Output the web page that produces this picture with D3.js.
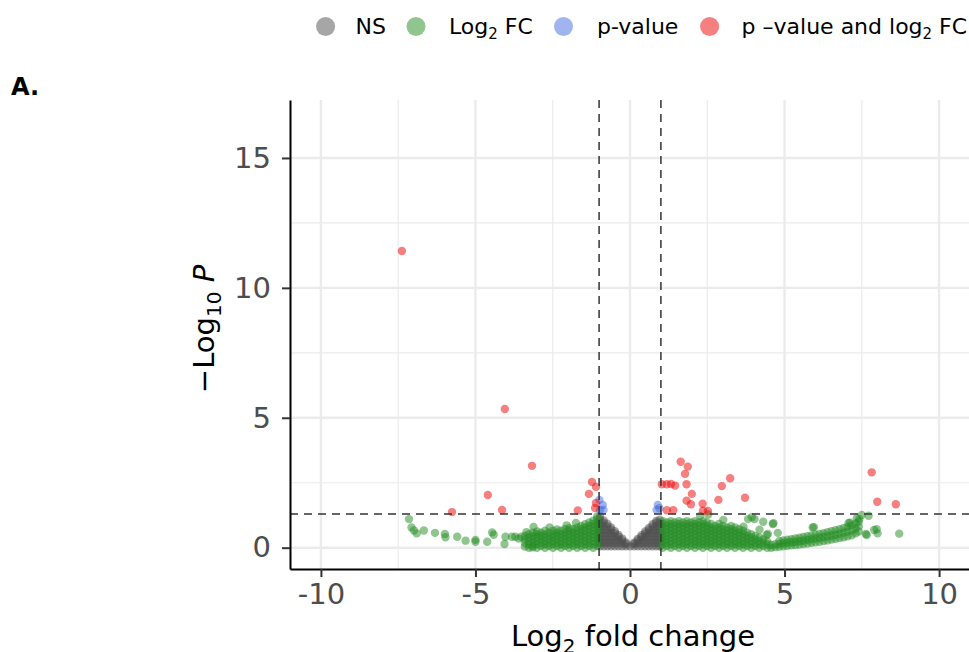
<!DOCTYPE html>
<html><head><meta charset="utf-8">
<script src="https://cdn.jsdelivr.net/npm/d3@7"></script>
<style>body{margin:0;background:#fff}svg{display:block;font-family:"DejaVu Sans",sans-serif}</style>
</head><body><svg id="c" width="969" height="652"></svg>
<script>
// ---- data ----
const categories = ["NS", "Log2 FC", "p-value", "p-value and log2 FC"];
const categoryColors = ["#4D4D4D", "#228B22", "#4169E1", "#EE0000"];
const xTicks = [-10, -5, 0, 5, 10];
const yTicks = [0, 5, 10, 15];
const xMinor = [-7.5, -2.5, 2.5, 7.5];
const yMinor = [2.5, 7.5, 12.5];
const fcCutoff = 1;
const pCutoffLog = 1.301; // -log10(0.05)

// NS points as columns [log2FC, [-log10 p ...]]
const nsColumns = [
  [-0.97,[0.05,0.18,0.31,0.44,0.57,0.7,0.83,0.96,1.09,1.2]],
  [-0.85,[0.05,0.18,0.31,0.44,0.57,0.7,0.83,0.96,1.05]],
  [-0.73,[0.05,0.18,0.31,0.44,0.57,0.7,0.83,0.92]],
  [-0.61,[0.05,0.18,0.31,0.44,0.57,0.7,0.78]],
  [-0.49,[0.05,0.18,0.31,0.44,0.56,0.63]],
  [-0.37,[0.05,0.18,0.31,0.42,0.49]],
  [-0.25,[0.05,0.18,0.28,0.35]],
  [-0.13,[0.05,0.14,0.2]],
  [0,[0.05]],
  [0.13,[0.05,0.14,0.19]],
  [0.25,[0.05,0.18,0.28,0.34]],
  [0.37,[0.05,0.18,0.31,0.41,0.48]],
  [0.49,[0.05,0.18,0.31,0.44,0.55,0.62]],
  [0.61,[0.05,0.18,0.31,0.44,0.57,0.68,0.76]],
  [0.73,[0.05,0.18,0.31,0.44,0.57,0.7,0.82,0.9]],
  [0.85,[0.05,0.18,0.31,0.44,0.57,0.7,0.83,0.96,1.03]],
  [0.96,[0.05,0.18,0.31,0.44,0.57,0.7,0.83,0.96,1.08]]
];

// Log2 FC only (green), dense columns
const fcColumns = [
  [-3.4,[0.04,0.18,0.32,0.45]],
  [-3.27,[0,0.13,0.26,0.39,0.52]],
  [-3.14,[0.06,0.19,0.32,0.45,0.58]],
  [-3.01,[0,0.13,0.26,0.39,0.52,0.62]],
  [-2.88,[0.06,0.19,0.32,0.45,0.58]],
  [-2.75,[0,0.13,0.26,0.39,0.52,0.65]],
  [-2.62,[0.06,0.19,0.32,0.45,0.58]],
  [-2.49,[0,0.13,0.26,0.39,0.52,0.65]],
  [-2.36,[0.06,0.19,0.32,0.45,0.58,0.7]],
  [-2.23,[0,0.13,0.26,0.39,0.52,0.65]],
  [-2.1,[0.06,0.19,0.32,0.45,0.58,0.71]],
  [-1.97,[0,0.13,0.26,0.39,0.52,0.65,0.75]],
  [-1.84,[0.06,0.19,0.32,0.45,0.58,0.71]],
  [-1.71,[0,0.13,0.26,0.39,0.52,0.65,0.78]],
  [-1.58,[0.06,0.19,0.32,0.45,0.58,0.71,0.84]],
  [-1.45,[0,0.13,0.26,0.39,0.52,0.65,0.78,0.9]],
  [-1.32,[0.06,0.19,0.32,0.45,0.58,0.71,0.84,0.97]],
  [-1.19,[0,0.13,0.26,0.39,0.52,0.65,0.78,0.91,1.04]],
  [-1.06,[0.06,0.19,0.32,0.45,0.58,0.71,0.84,0.97,1.1,1.2]],
  [1.06,[0,0.13,0.26,0.39,0.52,0.65,0.78,0.91,1.02]],
  [1.19,[0.06,0.19,0.32,0.45,0.58,0.71,0.84,0.97]],
  [1.32,[0,0.13,0.26,0.39,0.52,0.65,0.78,0.91,1.02]],
  [1.45,[0.06,0.19,0.32,0.45,0.58,0.71,0.84,0.97]],
  [1.58,[0,0.13,0.26,0.39,0.52,0.65,0.78,0.91,1.02]],
  [1.71,[0.06,0.19,0.32,0.45,0.58,0.71,0.84,0.97]],
  [1.84,[0,0.13,0.26,0.39,0.52,0.65,0.78,0.91,1.02]],
  [1.97,[0.06,0.19,0.32,0.45,0.58,0.71,0.84,0.97]],
  [2.1,[0,0.13,0.26,0.39,0.52,0.65,0.78,0.91,1.02]],
  [2.23,[0.06,0.19,0.32,0.45,0.58,0.71,0.84,0.97]],
  [2.36,[0,0.13,0.26,0.39,0.52,0.65,0.78,0.91,1.02]],
  [2.49,[0.06,0.19,0.32,0.45,0.58,0.71,0.84,0.97]],
  [2.62,[0,0.13,0.26,0.39,0.52,0.65,0.78,0.91]],
  [2.75,[0.06,0.19,0.32,0.45,0.58,0.71,0.84]],
  [2.88,[0,0.13,0.26,0.39,0.52,0.65,0.78,0.91]],
  [3.01,[0.06,0.19,0.32,0.45,0.58,0.71,0.84]],
  [3.14,[0,0.13,0.26,0.39,0.52,0.65,0.78]],
  [3.27,[0.06,0.19,0.32,0.45,0.58,0.71,0.84]],
  [3.4,[0,0.13,0.26,0.39,0.52,0.65,0.78]],
  [3.53,[0.06,0.19,0.32,0.45,0.58,0.71]],
  [3.66,[0,0.13,0.26,0.39,0.52,0.65]],
  [3.79,[0.06,0.19,0.32,0.45,0.58]],
  [3.92,[0,0.13,0.26,0.39,0.52]],
  [4.05,[0.06,0.19,0.32,0.45]],
  [4.18,[0,0.13,0.26,0.39]],
  [4.31,[0.06,0.19,0.32]],
  [4.44,[0,0.13,0.24]],
  [4.57,[0,0.11]],
  [4.7,[0.02,0.13]],
  [4.83,[0.03,0.15,0.26]],
  [4.96,[0.05,0.17,0.28]],
  [5.09,[0.07,0.19,0.31]],
  [5.22,[0.09,0.21,0.33]],
  [5.35,[0.1,0.23,0.36]],
  [5.48,[0.12,0.25,0.38]],
  [5.61,[0.14,0.27,0.41]],
  [5.74,[0.16,0.3,0.44]],
  [5.87,[0.19,0.33,0.47]],
  [6.0,[0.21,0.36,0.5]],
  [6.13,[0.23,0.38,0.53]],
  [6.26,[0.26,0.41,0.56]],
  [6.39,[0.28,0.44,0.6]],
  [6.52,[0.31,0.47,0.63]],
  [6.65,[0.34,0.5,0.67]],
  [6.78,[0.37,0.54,0.71]],
  [6.91,[0.4,0.58,0.76]],
  [7.04,[0.44,0.62,0.8]],
  [7.17,[0.48,0.67,0.86]],
  [7.3,[0.55,0.74,0.93]],
  [7.4,[0.62,0.82,1.0]]
];

// Log2 FC only (green), scattered points [log2FC, -log10 p]
const fcScatter = [
  [-7.15,1.10],[-7.07,0.78],[-6.99,0.66],[-6.90,0.55],[-6.67,0.66],[-6.31,0.57],
  [-5.99,0.53],[-5.97,0.40],[-5.59,0.42],[-5.32,0.27],[-5.00,0.30],[-5.00,0.23],
  [-4.62,0.23],[-4.46,0.59],[-4.41,0.50],[-4.06,0.14],[-4.03,0.42],[-3.82,0.42],
  [-3.71,0.42],[-3.60,0.35],[-3.52,0.42],[-3.12,0.80],[-3.15,0.01],[-3.35,0.60],
  [-2.60,0.78],[-2.05,0.86],[-1.75,0.95],
  [2.27,1.22],[2.53,1.28],[3.02,1.07],[3.67,0.81],[3.82,1.10],[3.94,1.17],
  [4.03,1.10],[4.19,0.69],[4.31,1.00],[4.42,0.49],[4.46,0.53],[4.62,0.91],
  [4.64,0.94],[4.78,0.57],[5.91,0.78],[5.95,0.79],[7.07,0.95],[7.12,0.96],
  [7.34,1.13],[7.42,1.10],[7.50,1.26],[7.63,0.53],[7.66,0.49],[7.72,1.23],
  [7.90,0.68],[7.98,0.71],[8.01,0.55],[8.71,0.54]
];

// p-value only (blue)
const pPoints = [
  [-0.99,1.84],[-0.88,1.64],[-0.97,1.45],[-0.86,1.45],
  [0.90,1.64],[0.86,1.45],[0.95,1.52]
];

// p-value and log2 FC (red)
const bothPoints = [
  [-7.38,11.42],[-4.05,5.34],[-3.17,3.15],[-4.60,2.03],[-4.14,1.45],[-5.76,1.37],
  [-1.69,1.43],[-1.23,2.53],[-1.10,2.34],[-1.33,2.07],[-1.10,1.72],[-1.13,1.53],
  [1.64,3.31],[1.87,3.12],[1.78,2.84],[1.03,2.44],[1.19,2.44],[1.33,2.45],
  [1.46,2.39],[1.83,2.44],[2.00,2.07],[1.83,1.81],[1.97,1.67],[2.35,1.69],
  [1.19,1.44],[1.40,1.44],[3.24,2.67],[2.97,2.37],[2.86,1.84],[3.72,1.92],
  [2.36,1.42],[2.52,1.41],[7.82,2.90],[8.00,1.77],[8.60,1.67]
];

// ---- build point table ----
const points = [];
nsColumns.forEach(([x, ys]) => ys.forEach(y => points.push({x, y, c: 0})));
fcColumns.forEach(([x, ys]) => ys.forEach(y => points.push({x, y, c: 1})));
fcScatter.forEach(([x, y]) => points.push({x, y, c: 1}));
pPoints.forEach(([x, y]) => points.push({x, y, c: 2}));
bothPoints.forEach(([x, y]) => points.push({x, y, c: 3}));

// ---- layout ----
const svg = d3.select("#c");
const L = 290, R = 970, T = 100, B = 569;
const x = d3.scaleLinear().domain([-11, 11]).range([L, R]);
const y = d3.scaleLinear().domain([-0.8205, 17.2305]).range([B, T]);

const grid = svg.append("g");
grid.selectAll(".vmin").data(xMinor).join("line")
  .attr("x1", d => x(d)).attr("x2", d => x(d)).attr("y1", T).attr("y2", B)
  .attr("stroke", "#ebebeb").attr("stroke-width", 1.2);
grid.selectAll(".hmin").data(yMinor).join("line")
  .attr("y1", d => y(d)).attr("y2", d => y(d)).attr("x1", L).attr("x2", R)
  .attr("stroke", "#ebebeb").attr("stroke-width", 1.2);
grid.selectAll(".vmaj").data(xTicks).join("line")
  .attr("x1", d => x(d)).attr("x2", d => x(d)).attr("y1", T).attr("y2", B)
  .attr("stroke", "#ebebeb").attr("stroke-width", 2.4);
grid.selectAll(".hmaj").data(yTicks).join("line")
  .attr("y1", d => y(d)).attr("y2", d => y(d)).attr("x1", L).attr("x2", R)
  .attr("stroke", "#ebebeb").attr("stroke-width", 2.4);

// points
svg.append("g").selectAll("circle")
  .data(points.slice().sort((a, b) => a.c - b.c))
  .join("circle")
  .attr("cx", d => x(d.x)).attr("cy", d => y(d.y)).attr("r", 4.2)
  .attr("fill", d => categoryColors[d.c]).attr("fill-opacity", 0.5);

// cutoff lines
const cut = svg.append("g").attr("stroke", "#333").attr("stroke-width", 1.5)
  .attr("stroke-dasharray", "8,6");
[-fcCutoff, fcCutoff].forEach(v => cut.append("line")
  .attr("x1", x(v)).attr("x2", x(v)).attr("y1", T).attr("y2", B));
cut.append("line").attr("x1", L).attr("x2", R)
  .attr("y1", y(pCutoffLog)).attr("y2", y(pCutoffLog));

// axes
const fmt = d => String(d);
const xAxis = svg.append("g").attr("transform", `translate(0,${B})`)
  .call(d3.axisBottom(x).tickValues(xTicks).tickFormat(fmt).tickSize(8).tickSizeOuter(0).tickPadding(6));
const yAxis = svg.append("g").attr("transform", `translate(${L},0)`)
  .call(d3.axisLeft(y).tickValues(yTicks).tickFormat(fmt).tickSize(8).tickSizeOuter(0).tickPadding(11));
[xAxis, yAxis].forEach(a => {
  a.select(".domain").attr("stroke", "#000").attr("stroke-width", 2);
  a.selectAll(".tick line").attr("stroke", "#333").attr("stroke-width", 2);
  a.selectAll(".tick text").attr("fill", "#4D4D4D").style("font-size", "29px")
    .style("font-family", "DejaVu Sans");
});

// axis titles
const xt = svg.append("text").attr("x", 633).attr("y", 646).attr("text-anchor", "middle")
  .style("font-size", "29px").attr("fill", "#000");
xt.append("tspan").text("Log");
xt.append("tspan").text("2").style("font-size", "20px").attr("dy", 7);
xt.append("tspan").text(" fold change").attr("dy", -7);

const yt = svg.append("text").attr("transform", "translate(214,329) rotate(-90)")
  .attr("text-anchor", "middle").style("font-size", "29px").attr("fill", "#000");
yt.append("tspan").text("\u2212Log");
yt.append("tspan").text("10").style("font-size", "20px").attr("dy", 7);
yt.append("tspan").text(" P").attr("dy", -7).style("font-style", "italic");

// tag
svg.append("text").attr("x", 11).attr("y", 95).text("A.")
  .style("font-size", "24px").style("font-weight", "bold").attr("fill", "#000");

// legend
const legendX = [325.6, 416, 563.5, 709.6];
const legendTextX = [355.5, 449, 597, 741.6];
const lg = svg.append("g");
categories.forEach((c, i) => {
  lg.append("circle").attr("cx", legendX[i]).attr("cy", 26.5).attr("r", 9.5)
    .attr("fill", categoryColors[i]).attr("fill-opacity", 0.5);
});
function legText(i, parts) {
  const t = lg.append("text").attr("x", legendTextX[i]).attr("y", 34)
    .style("font-size", "22px").attr("fill", "#000");
  parts.forEach(p => {
    const s = t.append("tspan").text(p[0]);
    if (p[1] === "sub") s.style("font-size", "15px").attr("dy", 5);
    if (p[1] === "up") s.attr("dy", -5);
  });
}
legText(0, [["NS"]]);
legText(1, [["Log"], ["2", "sub"], [" FC", "up"]]);
legText(2, [["p-value"]]);
legText(3, [["p \u2013value and log"], ["2", "sub"], [" FC", "up"]]);
</script></body></html>
